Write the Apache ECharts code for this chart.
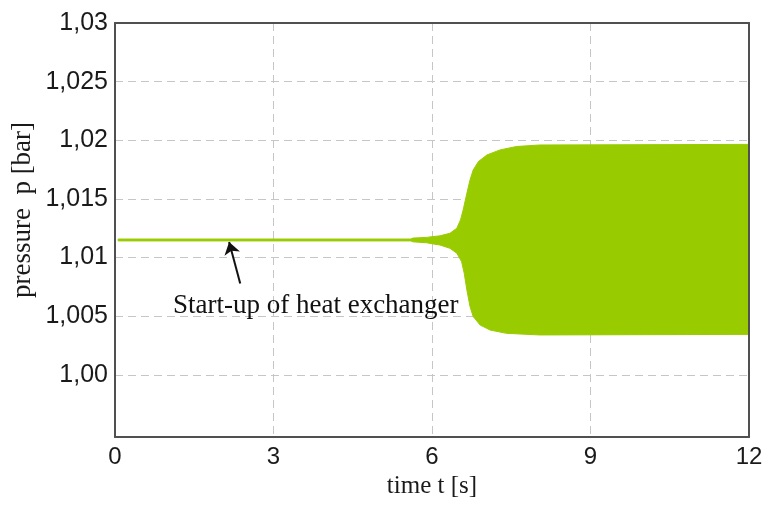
<!DOCTYPE html>
<html>
<head>
<meta charset="utf-8">
<script src="https://cdn.jsdelivr.net/npm/echarts@6/dist/echarts.min.js"></script>
<style>
  html, body { margin: 0; padding: 0; background: #fff; }
  #chart { width: 773px; height: 505px; }
</style>
</head>
<body>
<div id="chart"></div>
<script>
// Pressure envelope of the oscillating signal: upper and lower bounds over time
const tUpper = [0.06, 5.6, 5.64, 5.9, 6.0, 6.15, 6.34, 6.47, 6.54, 6.59, 6.66, 6.72, 6.78, 6.88, 7.04, 7.29, 7.60, 8.04, 12];
const pUpper = [1.01158, 1.01158, 1.01166, 1.01172, 1.01178, 1.01185, 1.01207, 1.0125, 1.01321, 1.01406, 1.01548, 1.01662, 1.01747, 1.01819, 1.01875, 1.01918, 1.01947, 1.0196, 1.01965];
const tLower = [0.06, 5.6, 5.64, 5.9, 6.0, 6.15, 6.34, 6.47, 6.56, 6.61, 6.66, 6.72, 6.78, 6.91, 7.10, 7.41, 8.04, 12];
const pLower = [1.01142, 1.01142, 1.01134, 1.01126, 1.01118, 1.01107, 1.01079, 1.01037, 1.00966, 1.00866, 1.00724, 1.00582, 1.00497, 1.00425, 1.00382, 1.00354, 1.0034, 1.00345];

// Axis ticks
const xTicks = [0, 3, 6, 9, 12];
const yTicks = [1.00, 1.005, 1.01, 1.015, 1.02, 1.025, 1.03];
const yTickLabels = ['1,00', '1,005', '1,01', '1,015', '1,02', '1,025', '1,03'];

// Annotation: arrow from label to the flat signal, and the label itself
const arrowFrom = [2.37, 1.00778];
const arrowTo = [2.16, 1.01132];
const noteAt = [3.8, 1.0059];
const noteText = 'Start-up of heat exchanger';

const GREEN = '#99cc00';
const GRID_COLOR = '#c6c6c6';
const BORDER = '#505050';
const Y_MIN = 0.9947, Y_MAX = 1.03;

const chart = echarts.init(document.getElementById('chart'), null, { renderer: 'canvas' });

const option = {
  backgroundColor: '#ffffff',
  animation: false,
  grid: { left: 115, right: 24, top: 23, bottom: 68, containLabel: false },
  xAxis: [{
    type: 'value',
    min: xTicks[0], max: xTicks[xTicks.length - 1], interval: 3,
    axisLine: { show: true, onZero: false, lineStyle: { color: BORDER, width: 2 } },
    axisTick: { show: false },
    axisLabel: {
      margin: 8, color: '#1a1a1a', fontSize: 24, fontFamily: 'Liberation Sans, Arial, sans-serif'
    },
    splitLine: { show: true, lineStyle: { color: GRID_COLOR, width: 1, type: [8, 5] } },
    name: 'time t [s]',
    nameLocation: 'middle',
    nameGap: 32,
    nameTextStyle: { color: '#1a1a1a', fontSize: 25, fontFamily: 'Liberation Serif, Times New Roman, serif' }
  }, {
    type: 'value', position: 'top', min: 0, max: 12, z: 5,
    axisLine: { show: true, onZero: false, lineStyle: { color: BORDER, width: 2 } },
    axisTick: { show: false }, axisLabel: { show: false }, splitLine: { show: false }
  }],
  yAxis: [{
    type: 'value',
    min: Y_MIN, max: Y_MAX,
    axisLine: { show: true, onZero: false, lineStyle: { color: BORDER, width: 2 } },
    axisTick: { show: false, customValues: yTicks },
    axisLabel: {
      customValues: yTicks,
      margin: 7, color: '#1a1a1a', fontSize: 25, fontFamily: 'Liberation Sans, Arial, sans-serif',
      formatter: function (v) {
        for (let i = 0; i < yTicks.length; i++) {
          if (Math.abs(yTicks[i] - v) < 1e-7) return yTickLabels[i];
        }
        return '';
      }
    },
    splitLine: { show: true, lineStyle: { color: GRID_COLOR, width: 1, type: [8, 5] } }
  }, {
    type: 'value', position: 'right', min: Y_MIN, max: Y_MAX, z: 5,
    axisLine: { show: true, onZero: false, lineStyle: { color: BORDER, width: 2 } },
    axisTick: { show: false }, axisLabel: { show: false }, splitLine: { show: false }
  }],
  graphic: [{
    type: 'text',
    x: 23, y: 210,
    rotation: Math.PI / 2,
    style: {
      text: 'pressure  p [bar]',
      fill: '#1a1a1a',
      font: '27px "Liberation Serif", "Times New Roman", serif',
      align: 'center',
      verticalAlign: 'middle'
    }
  }],
  series: [{
    name: 'pressure',
    type: 'custom',
    xAxisIndex: 0, yAxisIndex: 0,
    data: [[tUpper[0], pUpper[0]]],
    clip: true,
    z: 2,
    renderItem: function (params, api) {
      const pts = [];
      for (let i = 0; i < tUpper.length; i++) pts.push(api.coord([tUpper[i], pUpper[i]]));
      for (let i = tLower.length - 1; i >= 0; i--) pts.push(api.coord([tLower[i], pLower[i]]));
      return {
        type: 'polygon',
        shape: { points: pts },
        style: { fill: GREEN, stroke: GREEN, lineWidth: 1 }
      };
    }
  }, {
    name: 'annotation',
    type: 'line',
    xAxisIndex: 0, yAxisIndex: 0,
    data: [],
    z: 4,
    markLine: {
      silent: true,
      symbol: ['none', 'arrow'],
      symbolSize: 12,
      label: { show: false },
      lineStyle: { color: '#111', width: 2, type: 'solid' },
      data: [[{ coord: arrowFrom }, { coord: arrowTo }]]
    },
    markPoint: {
      silent: true,
      symbol: 'circle',
      symbolSize: 0,
      label: {
        show: true,
        position: 'inside',
        formatter: noteText,
        color: '#111',
        fontSize: 27,
        fontFamily: 'Liberation Serif, Times New Roman, serif'
      },
      data: [{ coord: noteAt }]
    }
  }]
};

chart.setOption(option);
</script>
</body>
</html>
